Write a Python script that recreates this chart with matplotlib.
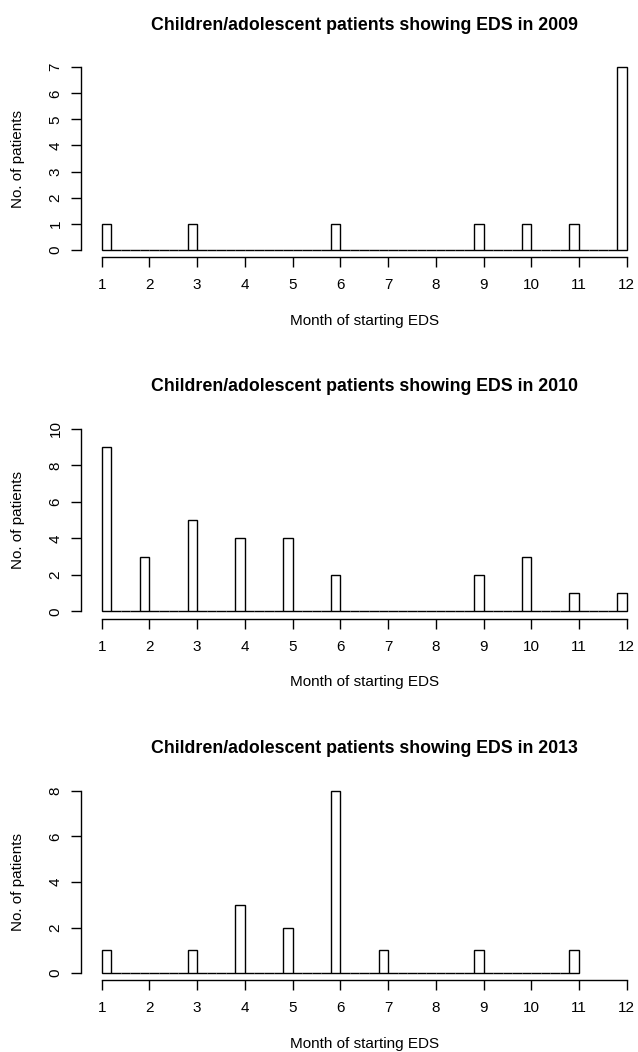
import numpy as np
import matplotlib.pyplot as plt

plt.rcParams['font.family'] = ['Liberation Sans', 'DejaVu Sans']

years = ['2009', '2010', '2013']

months_2009 = [1, 3, 6, 9, 10, 11, 12]
counts_2009 = [1, 1, 1, 1, 1, 1, 7]

months_2010 = [1, 2, 3, 4, 5, 6, 9, 10, 11, 12]
counts_2010 = [9, 3, 5, 4, 4, 2, 2, 3, 1, 1]

months_2013 = [1, 3, 4, 5, 6, 7, 9, 11]
counts_2013 = [1, 1, 3, 2, 8, 1, 1, 1]

ymax = [7, 10, 8]
yticks = [list(range(0, 8)), list(range(0, 11, 2)), list(range(0, 9, 2))]
xticks = list(range(1, 13))

data = [(months_2009, counts_2009), (months_2010, counts_2010), (months_2013, counts_2013)]

W, H = 638, 1052
fig = plt.figure(figsize=(W / 100, H / 100), dpi=100)

tops = [60, 421.7, 783.4]
left_px, right_px, h_px = 80.7, 647.7, 197

binw = 0.2
for i, (months, counts) in enumerate(data):
    ax = fig.add_axes([left_px / W, 1 - (tops[i] + h_px) / H,
                       (right_px - left_px) / W, h_px / H])
    # R-style histogram: right-closed bins of width 0.2 from 1 to the last month
    last = max(months)
    nb = int(round((last - 1) / binw))
    edges = 1 + binw * np.arange(nb + 1)
    heights = np.zeros(nb)
    for m, c in zip(months, counts):
        idx = 0 if m == 1 else int(round((m - 1) / binw)) - 1
        heights[idx] = c
    ax.bar(edges[:-1], heights, width=binw, align='edge',
           facecolor='white', edgecolor='black', linewidth=1.0)

    ax.set_xlim(1 - 0.44, 12 + 0.44)
    ax.set_ylim(-0.04 * ymax[i], ymax[i] * 1.04)
    for s in ['top', 'right']:
        ax.spines[s].set_visible(False)
    ax.spines['left'].set_bounds(0, ymax[i])
    ax.spines['bottom'].set_bounds(1, 12)
    ax.spines['left'].set_linewidth(1.0)
    ax.spines['bottom'].set_linewidth(1.0)

    ax.set_xticks(xticks)
    ax.set_xticklabels([str(t) for t in xticks])
    ax.set_yticks(yticks[i])
    ax.set_yticklabels([str(t) for t in yticks[i]], rotation=90, va='center')
    ax.tick_params(axis='both', length=7, width=1.0, labelsize=11, direction='out')
    ax.tick_params(axis='x', pad=8)
    ax.tick_params(axis='y', pad=6)

    ax.annotate('Children/adolescent patients showing EDS in ' + years[i],
                xy=(0.5, 1), xycoords='axes fraction', xytext=(0, 35 * 0.72),
                textcoords='offset points', ha='center', va='center',
                fontsize=12.8, fontweight='bold')
    ax.annotate('Month of starting EDS', xy=(0.5, 0), xycoords='axes fraction',
                xytext=(0, -63.5 * 0.72), textcoords='offset points',
                ha='center', va='center', fontsize=11)
    ax.annotate('No. of patients', xy=(0, 0.5), xycoords='axes fraction',
                xytext=(-62.7 * 0.72, 0), textcoords='offset points',
                ha='center', va='center', rotation=90, fontsize=11)

fig.savefig('out.png', dpi=100)
